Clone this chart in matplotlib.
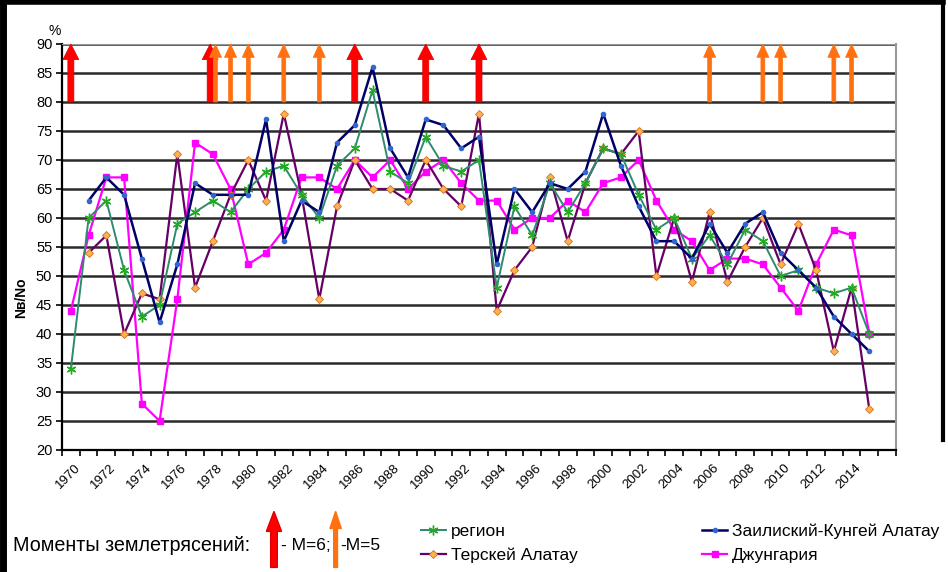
import matplotlib
matplotlib.use("Agg")
import matplotlib.pyplot as plt
from matplotlib.lines import Line2D
from matplotlib.patches import FancyArrow
import numpy as np

plt.rcParams['font.family'] = ['Liberation Sans', 'DejaVu Sans']

years = list(range(1970, 2017))

region = [34, 60, 63, 51, 43, 45, 59, 61, 63, 61, 65, 68, 69, 64, 60, 69, 72, 82, 68, 66,
          74, 69, 68, 70, 48, 62, 57, 66, 61, 66, 72, 71, 64, 58, 60, 53, 57, 52, 58, 56,
          50, 51, 48, 47, 48, 40]
zailiysky = [None, 63, 67, 64, 53, 42, 52, 66, 64, 64, 64, 77, 56, 63, 61, 73, 76, 86, 72, 67,
             77, 76, 72, 74, 52, 65, 61, 66, 65, 68, 78, 69, 62, 56, 56, 53, 59, 54, 59, 61,
             54, 51, 48, 43, 40, 37]
terskey = [None, 54, 57, 40, 47, 46, 71, 48, 56, 64, 70, 63, 78, 64, 46, 62, 70, 65, 65, 63,
           70, 65, 62, 78, 44, 51, 55, 67, 56, 66, 72, 71, 75, 50, 60, 49, 61, 49, 55, 60,
           52, 59, 51, 37, 48, 27]
dzhungaria = [44, 57, 67, 67, 28, 25, 46, 73, 71, 65, 52, 54, 58, 67, 67, 65, 70, 67, 70, 65,
              68, 70, 66, 63, 63, 58, 60, 60, 63, 61, 66, 67, 70, 63, 58, 56, 51, 53, 53, 52,
              48, 44, 52, 58, 57, 40]

quakes_m6 = [1970, 1978, 1986, 1990, 1993]
quakes_m5 = [1978, 1979, 1980, 1982, 1984, 2006, 2009, 2010, 2013, 2014]

tick_years = list(range(1970, 2015, 2))


def series(vals):
    return np.array([np.nan if v is None else v for v in vals], dtype=float)


fig = plt.figure(figsize=(9.48, 5.72), dpi=100)
ax = fig.add_axes([0.0654, 0.2133, 0.8797, 0.7098])

x = np.arange(len(region))

ax.plot(x, series(dzhungaria), color='#FF00FF', lw=1.6, marker='s', ms=4.5,
        mfc='#FF00FF', mec='#FF00FF', zorder=3, label='Джунгария')
ax.plot(x, series(terskey), color='#660066', lw=1.6, marker='D', ms=4,
        mfc='#FFB050', mec='#D07020', mew=0.6, zorder=4, label='Терскей Алатау')
ax.plot(x, series(region), color='#2E8B6E', lw=1.4, marker=(6, 2, 0), ms=7,
        mec='#22AA22', mew=1.0, zorder=5, label='регион')
ax.plot(x, series(zailiysky), color='#000066', lw=1.8, marker='o', ms=3,
        mfc='#3366CC', mec='#3366CC', zorder=6, label='Заилиский-Кунгей Алатау')

ax.set_xlim(-0.5, len(years) - 0.5)
ax.set_ylim(20, 90)
ax.set_yticks(range(20, 91, 5))
ax.yaxis.grid(True, color='#2a2a2a', lw=1.8)
ax.set_axisbelow(True)
ax.tick_params(axis='y', length=4, width=1.2, labelsize=10.5, pad=3)

# category boundaries as ticks, year labels every second year
ax.set_xticks(np.arange(-0.5, len(years), 1.0))
ax.set_xticklabels([])
ax.tick_params(axis='x', direction='out', length=4, width=1.2)
for yr in tick_years:
    ax.text(years.index(yr) + 0.2, 18.0, str(yr), rotation=45, ha='right', va='top',
            rotation_mode='anchor', fontsize=9.5)

ax.spines['left'].set_color('black')
ax.spines['left'].set_linewidth(1.6)
ax.spines['bottom'].set_linewidth(1.6)
ax.spines['top'].set_color('#999999')
ax.spines['right'].set_color('#999999')
ax.spines['right'].set_linewidth(1.5)

ax.text(-0.9, 91.0, '%', fontsize=10, ha='center', va='bottom')
fig.text(0.022, 0.48, 'Nв/No', rotation=90, fontsize=10, fontweight='bold',
         ha='center', va='center')

# earthquake arrows
for yr in quakes_m6:
    xi = years.index(yr) - (0.15 if yr in quakes_m5 else 0)
    ax.arrow(xi, 80, 0, 10, width=0.34, head_width=0.9, head_length=2.7,
             length_includes_head=True, fc='#FF0000', ec='#DD0000', lw=0.5, zorder=7)
for yr in quakes_m5:
    xi = years.index(yr) + (0.15 if yr in quakes_m6 else 0)
    ax.arrow(xi, 80, 0, 10, width=0.22, head_width=0.68, head_length=2.3,
             length_includes_head=True, fc='#FF7010', ec='#FF7010', lw=0.5, zorder=7)

# legend for earthquakes
fig.text(0.014, 0.047, 'Моменты землетрясений:', fontsize=14.2, ha='left', va='center')
fig.patches.append(FancyArrow(
    0.289, 0.008, 0, 0.098, width=0.007, head_width=0.016, head_length=0.035,
    length_includes_head=True, transform=fig.transFigure, fc='#FF0000', ec='#DD0000'))
fig.text(0.296, 0.047, '- M=6;', fontsize=12.5, ha='left', va='center')
fig.patches.append(FancyArrow(
    0.354, 0.008, 0, 0.098, width=0.004, head_width=0.012, head_length=0.03,
    length_includes_head=True, transform=fig.transFigure, fc='#FF7010', ec='#FF7010'))
fig.text(0.359, 0.047, '-M=5', fontsize=12.5, ha='left', va='center')

h, l = ax.get_legend_handles_labels()
order = [2, 1, 3, 0]
leg = fig.legend([h[i] for i in order], [l[i] for i in order], ncol=2, frameon=False,
                 loc='center left', bbox_to_anchor=(0.437, 0.05), fontsize=12.5,
                 handlelength=1.4, handletextpad=0.3, columnspacing=7.2,
                 labelspacing=0.5, borderaxespad=0)

# outer frame
fig.add_artist(Line2D([0.003, 0.003], [0, 1], color='black', lw=5, transform=fig.transFigure))
fig.add_artist(Line2D([0, 0.995], [0.997, 0.997], color='black', lw=4, transform=fig.transFigure))
fig.add_artist(Line2D([0.995, 0.995], [0.23, 1], color='black', lw=3, transform=fig.transFigure))

fig.savefig('out.png', dpi=100)
